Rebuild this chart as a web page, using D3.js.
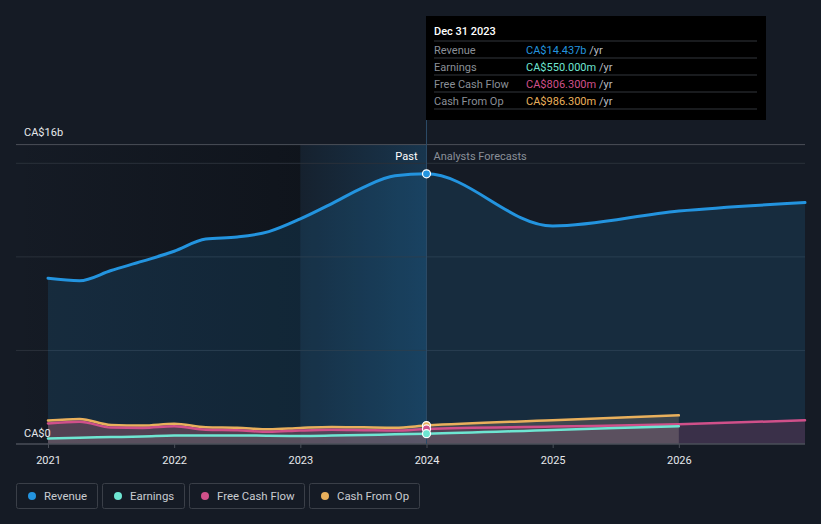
<!DOCTYPE html>
<html><head><meta charset="utf-8">
<script src="https://cdn.jsdelivr.net/npm/d3@7"></script>
<style>
html,body{margin:0;padding:0;background:#151b25;}
svg{display:block;font-family:Roboto,"Noto Sans",sans-serif;}
</style></head>
<body><svg id="c" width="821" height="524"></svg>
<script>
// ---------- data ----------
const pastYears = [2021,2021.25,2021.5,2021.75,2022,2022.25,2022.5,2022.75,2023,2023.25,2023.5,2023.75,2024];
const revenuePast = [8.86,8.73,9.27,9.77,10.3,10.95,11.06,11.35,12.03,12.85,13.72,14.33,14.437];
const earningsPast = [0.30,0.34,0.37,0.40,0.45,0.46,0.46,0.44,0.43,0.45,0.48,0.52,0.55];
const fcfPast = [1.10,1.19,0.88,0.86,0.95,0.76,0.73,0.65,0.72,0.76,0.74,0.72,0.806];
const cfoPast = [1.25,1.34,1.02,0.99,1.08,0.90,0.87,0.79,0.86,0.91,0.89,0.87,0.986];
const fcYears = [2024,2025,2026,2027];
const revenueFc = [14.437,11.65,12.45,12.9];
const earningsFc = [0.55,0.75,0.95];
const fcfFc = [0.806,0.93,1.05,1.27];
const cfoFc = [0.986,1.27,1.53];
const xTicks = [2021,2022,2023,2024,2025,2026];
const yGrid = [5,10,15];
const seriesNames = ["Revenue","Earnings","Free Cash Flow","Cash From Op"];
const seriesColors = ["#2394df","#6ee6d2","#d0508a","#e9b05c"];
const tipTitle = "Dec 31 2023";
const tipValues = ["CA$14.437b","CA$550.000m","CA$806.300m","CA$986.300m"];

// ---------- scales ----------
const svg = d3.select("#c");
const x = d3.scaleLinear().domain([2021,2027]).range([48,805]);
const y = d3.scaleLinear().domain([0,16]).range([444,144.6]);
const left = 16, right = 805;

const defs = svg.append("defs");
const gPast = defs.append("linearGradient").attr("id","gPast");
gPast.append("stop").attr("offset","0").attr("stop-color","#0b0f15").attr("stop-opacity",0);
gPast.append("stop").attr("offset","1").attr("stop-color","#0b0f15").attr("stop-opacity",0.55);
const gHi = defs.append("linearGradient").attr("id","gHi");
gHi.append("stop").attr("offset","0").attr("stop-color","#2394df").attr("stop-opacity",0.05);
gHi.append("stop").attr("offset","1").attr("stop-color","#2394df").attr("stop-opacity",0.22);

svg.append("rect").attr("width",821).attr("height",524).attr("fill","#151b25");

// past shading
svg.append("rect").attr("x",left).attr("y",y(16)).attr("width",x(2023)-left).attr("height",y(0)-y(16)).attr("fill","url(#gPast)");
svg.append("rect").attr("x",x(2023)).attr("y",y(16)).attr("width",x(2024)-x(2023)).attr("height",y(0)-y(16)).attr("fill","url(#gHi)");

// grid
svg.append("line").attr("x1",left).attr("x2",right).attr("y1",y(16)).attr("y2",y(16)).attr("stroke","#4a4f58").attr("stroke-width",1);
svg.selectAll(".grid").data(yGrid).enter().append("line")
  .attr("x1",left).attr("x2",right).attr("y1",d=>y(d)).attr("y2",d=>y(d))
  .attr("stroke","#2a303a").attr("stroke-width",1);

// helpers
const mk = (xs,vs)=>xs.map((d,i)=>({x:d,v:vs[i]}));
const line = d3.line().x(d=>x(d.x)).y(d=>y(d.v)).curve(d3.curveMonotoneX);
const area = d3.area().x(d=>x(d.x)).y0(y(0)).y1(d=>y(d.v)).curve(d3.curveMonotoneX);

const revAll = mk(pastYears,revenuePast).concat(mk(fcYears,revenueFc).slice(1));
const earnAll = mk(pastYears,earningsPast).concat(mk(fcYears.slice(0,3),earningsFc).slice(1));
const fcfAll = mk(pastYears,fcfPast).concat(mk(fcYears,fcfFc).slice(1));
const cfoAll = mk(pastYears,cfoPast).concat(mk(fcYears.slice(0,3),cfoFc).slice(1));

// areas
svg.append("path").attr("d",area(revAll)).attr("fill","#2394df").attr("opacity",0.14);
svg.append("path").attr("d",area(cfoAll)).attr("fill","#8a7a70").attr("opacity",0.35);
svg.append("path").attr("d",area(fcfAll)).attr("fill","#7a3a5e").attr("opacity",0.35);
svg.append("path").attr("d",area(earnAll)).attr("fill","#6e7a80").attr("opacity",0.25);

// lines
[[revAll,0,3],[cfoAll,3,2.5],[fcfAll,2,2.5],[earnAll,1,2.5]].forEach(([d,i,w])=>{
  svg.append("path").attr("d",line(d)).attr("fill","none").attr("stroke",seriesColors[i]).attr("stroke-width",w).attr("stroke-linecap","round");
});

// axis
const axis = d3.axisBottom(x).tickValues(xTicks).tickFormat(d3.format("d")).tickSize(4).tickPadding(8);
const ax = svg.append("g").attr("transform",`translate(0,${y(0)})`).call(axis);
ax.select(".domain").remove();
ax.selectAll(".tick line").attr("stroke","#4a4f58");
ax.selectAll(".tick text").attr("fill","#e6e8eb").attr("font-size",11).attr("font-family","Roboto,sans-serif");
svg.append("line").attr("x1",left).attr("x2",right).attr("y1",y(0)).attr("y2",y(0)).attr("stroke","#4a4f58").attr("stroke-width",1.5);

// y labels
svg.append("text").attr("x",24).attr("y",136).attr("fill","#e6e8eb").attr("font-size",11).text("CA$16b");
svg.append("text").attr("x",24).attr("y",437).attr("fill","#e6e8eb").attr("font-size",11).text("CA$0");

// hover line
svg.append("line").attr("x1",x(2024)).attr("x2",x(2024)).attr("y1",118).attr("y2",y(0)).attr("stroke","#2b4a66").attr("stroke-width",1);

// Past / forecast labels
svg.append("text").attr("x",x(2024)-9).attr("y",160).attr("text-anchor","end").attr("fill","#ffffff").attr("font-size",11).text("Past");
svg.append("text").attr("x",x(2024)+7).attr("y",160).attr("fill","#8a9099").attr("font-size",11).text("Analysts Forecasts");

// dots
[[revenuePast[12],0],[cfoPast[12],3],[fcfPast[12],2],[earningsPast[12],1]].forEach(([v,i])=>{
  svg.append("circle").attr("cx",x(2024)).attr("cy",y(v)).attr("r",4).attr("fill",seriesColors[i]).attr("stroke","#ffffff").attr("stroke-width",1.2);
});

// tooltip
const tip = svg.append("g").attr("transform","translate(426,16)");
tip.append("rect").attr("width",340).attr("height",104).attr("fill","#000000");
tip.append("text").attr("x",8).attr("y",19).attr("fill","#ffffff").attr("font-size",11).attr("font-weight",500).text(tipTitle);
seriesNames.forEach((n,i)=>{
  const ry = 25 + i*17;
  tip.append("line").attr("x1",8).attr("x2",331).attr("y1",ry).attr("y2",ry).attr("stroke","#33363c").attr("stroke-width",1);
  tip.append("text").attr("x",8).attr("y",ry+12.5).attr("fill","#8a8f97").attr("font-size",11).text(n);
  const t = tip.append("text").attr("x",100).attr("y",ry+12.5).attr("font-size",11);
  t.append("tspan").attr("fill",seriesColors[i]).text(tipValues[i]);
  t.append("tspan").attr("fill","#b8bcc2").text(" /yr");
});
tip.append("line").attr("x1",8).attr("x2",331).attr("y1",93).attr("y2",93).attr("stroke","#33363c").attr("stroke-width",1);

// legend
const lg = svg.append("g");
let lx = 16;
const widths = [81,82,115,110];
seriesNames.forEach((n,i)=>{
  const g = lg.append("g").attr("transform",`translate(${lx},483)`);
  g.append("rect").attr("x",0.5).attr("y",0.5).attr("width",widths[i]).attr("height",25).attr("rx",2).attr("fill","none").attr("stroke","#3a3f48");
  g.append("circle").attr("cx",16).attr("cy",13).attr("r",4).attr("fill",seriesColors[i]);
  g.append("text").attr("x",28).attr("y",17).attr("fill","#c9ccd1").attr("font-size",11.4).text(n);
  lx += widths[i] + 5;
});
</script></body></html>
